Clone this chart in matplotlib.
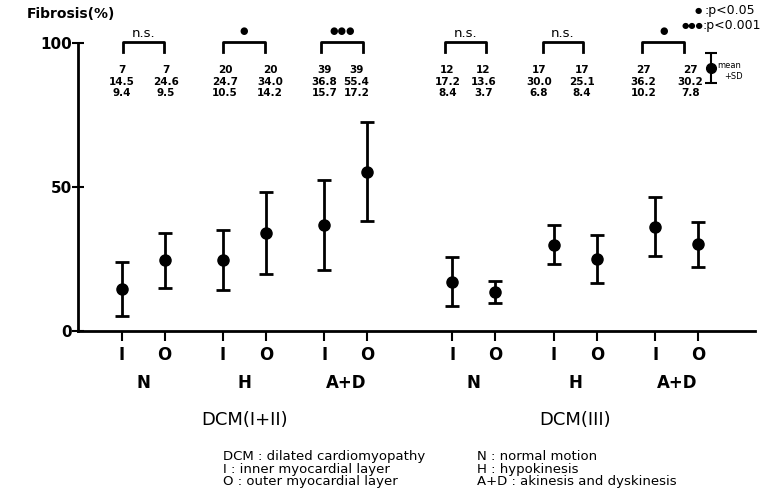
import matplotlib
matplotlib.use('Agg')
import matplotlib.pyplot as plt
import numpy as np

# DCM(I+II) groups then DCM(III) groups, I and O layers for N, H, A+D
n_cases = [7, 7, 20, 20, 39, 39, 12, 12, 17, 17, 27, 27]
means = [14.5, 24.6, 24.7, 34.0, 36.8, 55.4, 17.2, 13.6, 30.0, 25.1, 36.2, 30.2]
sds = [9.4, 9.5, 10.5, 14.2, 15.7, 17.2, 8.4, 3.7, 6.8, 8.4, 10.2, 7.8]
layer_labels = ['I', 'O'] * 6
motion_labels = ['N', 'H', 'A+D', 'N', 'H', 'A+D']
set_labels = ['DCM(I+II)', 'DCM(III)']
signif = ['n.s.', '*', '***', 'n.s.', 'n.s.', '*']

# x layout: I/O spacing, group spacing and gap between DCM sets
pos = []
for s in range(2):
    for g in range(3):
        base = s * 3.31 + g * 1.015
        pos += [base, base + 0.43]
pos = np.array(pos)
group_centers = (pos[0::2] + pos[1::2]) / 2
# the printed table and brackets sit a little off the ticks in the original
table_dx = [0, 0.01, 0.02, 0.04, 0, -0.11, -0.05, -0.12, -0.15, -0.15, -0.12, -0.08]
bracket_dx = [0.01, -0.01, 0, -0.01, -0.03, -0.04, -0.07, -0.09, -0.11, -0.14, -0.13, -0.14]

bold = dict(family='DejaVu Sans', fontweight='bold')

fig = plt.figure(figsize=(7.69, 4.97), dpi=100)
ax = fig.add_axes([0.101, 0.334, 0.881, 0.579])

ax.errorbar(pos, means, yerr=sds, fmt='o', color='black', markersize=8,
            elinewidth=2, capsize=5, capthick=2)

ax.set_xlim(-0.44, 6.34)
ax.set_ylim(0, 100)
for sp in ['top', 'right']:
    ax.spines[sp].set_visible(False)
ax.spines['left'].set_linewidth(2)
ax.spines['bottom'].set_linewidth(2)

ax.set_yticks([0, 50, 100])
ax.set_yticklabels(['0', '50', '100'], fontsize=11, **bold)
ax.set_xticks(pos)
ax.set_xticklabels(layer_labels, fontsize=12, **bold)
ax.tick_params(axis='x', length=7, width=1.5, pad=4)
ax.tick_params(axis='y', direction='inout', length=8, width=1.5, pad=0)

fig.text(0.035, 0.972, 'Fibrosis(%)', fontsize=10, ha='left', va='center', **bold)

tb = ax.get_xaxis_transform()
for c, lab in zip(group_centers, motion_labels):
    ax.text(c, -0.18, lab, transform=tb, ha='center', va='center',
            fontsize=12, **bold)
for s, lab in enumerate(set_labels):
    c = group_centers[s * 3 + 1]
    ax.text(c, -0.308, lab, transform=tb, ha='center', va='center',
            fontsize=13, family='DejaVu Sans')

# n, mean, SD table and significance brackets
for i, x in enumerate(pos):
    tx = x + table_dx[i]
    ax.text(tx, 90.8, str(n_cases[i]), ha='center', va='center',
            fontsize=7.5, **bold)
    ax.text(tx, 86.7, '%.1f' % means[i], ha='center', va='center',
            fontsize=7.5, **bold)
    ax.text(tx, 82.6, '%.1f' % sds[i], ha='center', va='center',
            fontsize=7.5, **bold)

for g in range(6):
    x0 = pos[2 * g] + bracket_dx[2 * g]
    x1 = pos[2 * g + 1] + bracket_dx[2 * g + 1]
    ax.plot([x0, x0, x1, x1], [97, 100.5, 100.5, 97], color='black',
            lw=2, clip_on=False)
    lab = signif[g]
    if lab == 'n.s.':
        ax.text((x0 + x1) / 2, 103.5, lab, ha='center', va='center',
                fontsize=9.5, family='DejaVu Sans', clip_on=False)
    else:
        ax.text((x0 + x1) / 2, 104.3, '●' * len(lab), ha='center', va='center',
                fontsize=7, family='DejaVu Sans', clip_on=False)

# significance key
fig.text(0.912, 0.979, '●', fontsize=6, family='DejaVu Sans', va='center', ha='right')
fig.text(0.916, 0.979, ':p<0.05', fontsize=9, family='DejaVu Sans', va='center')
fig.text(0.914, 0.949, '●●●', fontsize=6, family='DejaVu Sans', va='center', ha='right')
fig.text(0.914, 0.949, ':p<0.001', fontsize=9, family='DejaVu Sans', va='center')

# mean +- SD key
kx = fig.add_axes([0.910, 0.827, 0.031, 0.072])
kx.set_xlim(0, 1)
kx.set_ylim(0, 1)
kx.axis('off')
kx.errorbar([0.45], [0.5], yerr=[0.42], fmt='o', color='black', markersize=7,
            elinewidth=1.5, capsize=4, capthick=1.5)
fig.text(0.933, 0.869, 'mean', fontsize=6, family='DejaVu Sans', va='center')
fig.text(0.942, 0.847, '+SD', fontsize=6, family='DejaVu Sans', va='center')

# footnotes
fig.text(0.290, 0.056, 'DCM : dilated cardiomyopathy\nI : inner myocardial layer\nO : outer myocardial layer',
         fontsize=9.5, family='DejaVu Sans', va='center', linespacing=0.95)
fig.text(0.620, 0.056, 'N : normal motion\nH : hypokinesis\nA+D : akinesis and dyskinesis',
         fontsize=9.5, family='DejaVu Sans', va='center', linespacing=0.95)

fig.savefig('out.png', dpi=100)
